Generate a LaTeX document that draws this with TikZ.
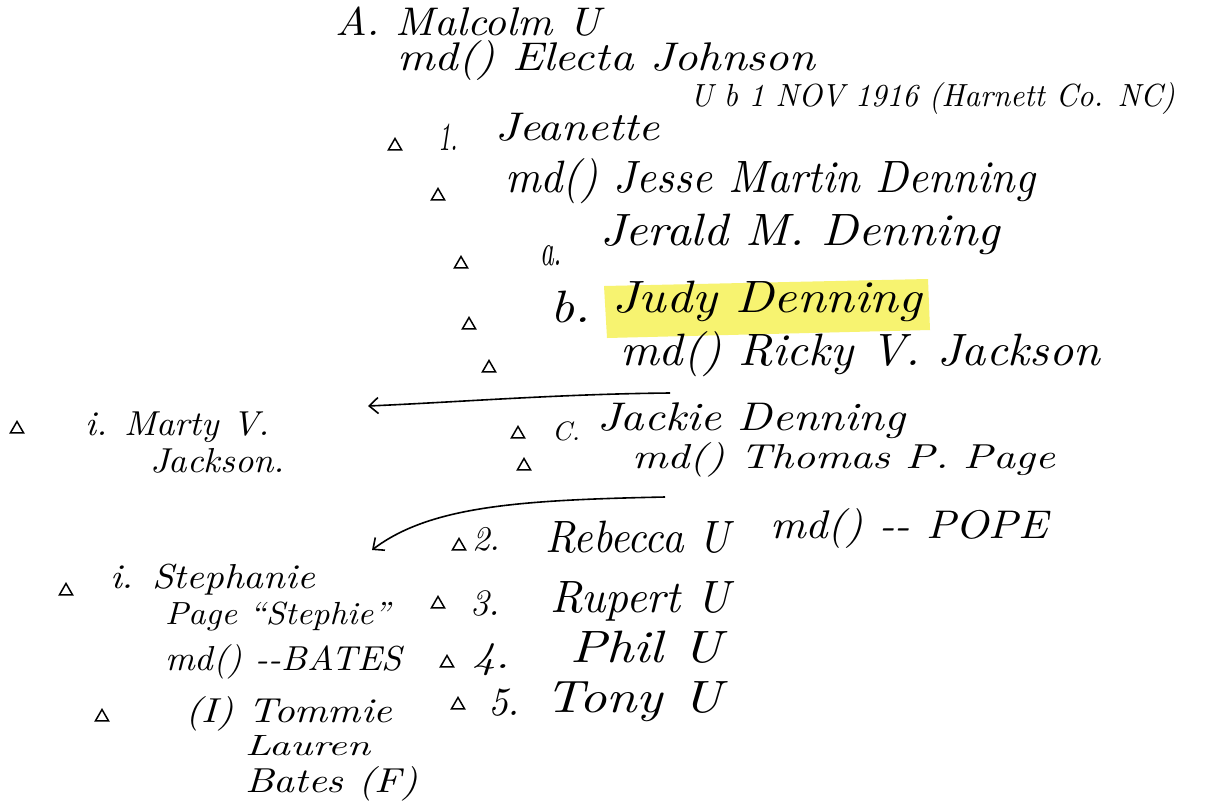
\documentclass[tikz,border=0pt]{standalone}
\usetikzlibrary{shapes.geometric,arrows.meta}
\definecolor{hl}{RGB}{247,243,112}
\newcommand{\hw}[3]{\resizebox{#1pt}{#2pt}{\itshape\vphantom{(}#3}}
\begin{document}
\begin{tikzpicture}[x=1pt,y=-1pt,
  txt/.style={anchor=base west,inner sep=0pt,outer sep=0pt},
  tri/.style={draw,regular polygon,regular polygon sides=3,minimum size=15pt,inner sep=0pt,line width=1.5pt},
  arr/.style={line width=1.6pt,-{Straight Barb[length=9pt,width=16pt,line width=1.6pt]}}]
\useasboundingbox (0,0) rectangle (1206,806);
\fill[white] (0,0) rectangle (1206,806);
% highlight
\fill[hl] (604,286) -- (928,279) -- (930,330) -- (607,338) -- cycle;
% header
\node[txt] (malcolm) at (335,35) {\hw{265}{30}{A. Malcolm U}};
\node[txt] (electa) at (397,70) {\hw{418}{30}{md() Electa Johnson}};
% 1. Jeanette
\node[tri] (t1) at (395,146) {};
\node[txt] (n1) at (438,150) {\hw{20}{30}{1.}};
\node[txt] (jeanette) at (495,140) {\hw{165}{30}{Jeanette}};
\node[txt] (jbirth) at (690,106) {\hw{485}{24}{U b 1 NOV 1916 (Harnett Co. NC)}};
\node[tri] (t2) at (438,196) {};
\node[txt] (jesse) at (505,192) {\hw{530}{34}{md() Jesse Martin Denning}};
% a. Jerald
\node[tri] (t3) at (461,264) {};
\node[txt] (na) at (540,265) {\hw{22}{34}{a.}};
\node[txt] (jerald) at (600,245) {\hw{400}{34}{Jerald M. Denning}};
% b. Judy
\node[tri] (t4) at (469,325) {};
\node[txt] (nb) at (550,322) {\hw{40}{34}{b.}};
\node[txt] (judy) at (612,312) {\hw{310}{34}{Judy Denning}};
\node[tri] (t5) at (489,368) {};
\node[txt] (ricky) at (620,365) {\hw{480}{34}{md() Ricky V. Jackson}};
% Marty
\node[tri] (t6) at (17,429) {};
\node[txt] (marty) at (85,435) {\hw{185}{26}{i. Marty V.}};
\node[txt] (marty2) at (150,472) {\hw{135}{26}{Jackson.}};
% c. Jackie
\node[tri] (t7) at (518,434) {};
\node[txt] (nc) at (552,440) {\hw{28}{20}{C.}};
\node[txt] (jackie) at (597,430) {\hw{308}{30}{Jackie Denning}};
\node[tri] (t8) at (524,466) {};
\node[txt] (thomas) at (632,468) {\hw{423}{26}{md() Thomas P. Page}};
% 2. Rebecca
\node[tri] (t9) at (459,546) {};
\node[txt] (n2) at (472,550) {\hw{28}{26}{2.}};
\node[txt] (rebecca) at (545,552) {\hw{185}{34}{Rebecca U}};
\node[txt] (pope) at (770,538) {\hw{278}{30}{md() -{}- POPE}};
% Stephanie
\node[tri] (t10) at (66,591) {};
\node[txt] (steph) at (110,588) {\hw{205}{26}{i. Stephanie}};
\node[txt] (steph2) at (165,624) {\hw{225}{24}{Page ``Stephie''}};
\node[txt] (bates) at (165,670) {\hw{237}{26}{md() -{}-BATES}};
\node[tri] (t11) at (102,717) {};
\node[txt] (tommie) at (185,722) {\hw{207}{26}{(I) Tommie}};
\node[txt] (lauren) at (245,755) {\hw{125}{22}{Lauren}};
\node[txt] (batesf) at (245,792) {\hw{173}{26}{Bates (F)}};
% 3, 4, 5
\node[tri] (t12) at (438,604) {};
\node[txt] (n3) at (470,615) {\hw{30}{28}{3.}};
\node[txt] (rupert) at (550,612) {\hw{180}{34}{Rupert U}};
\node[tri] (t13) at (447,663) {};
\node[txt] (n4) at (472,668) {\hw{38}{28}{4.}};
\node[txt] (phil) at (570,662) {\hw{152}{34}{Phil U}};
\node[tri] (t14) at (458,705) {};
\node[txt] (n5) at (488,715) {\hw{32}{30}{5.}};
\node[txt] (tony) at (545,712) {\hw{177}{34}{Tony U}};
% arrows
\coordinate (a1s) at (670,393);
\coordinate (a1e) at (368,406);
\coordinate (a2s) at (665,497);
\coordinate (a2e) at (372,550);
\draw[arr] (a1s) .. controls (560,394) and (460,402) .. (a1e);
\draw[arr] (a2s) .. controls (520,500) and (430,506) .. (a2e);
\end{tikzpicture}
\end{document}
